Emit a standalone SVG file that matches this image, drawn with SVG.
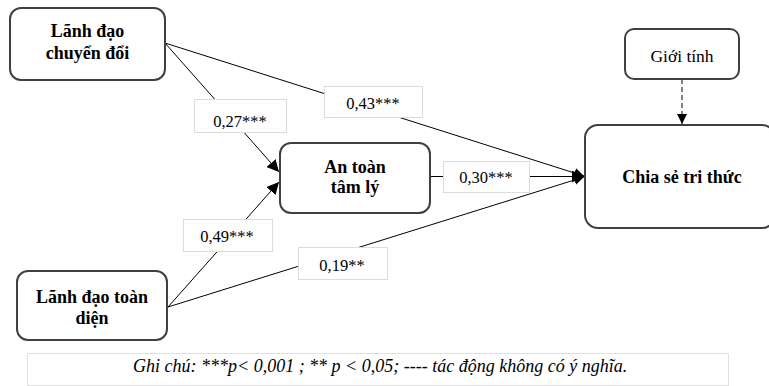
<svg xmlns="http://www.w3.org/2000/svg" width="769" height="386" viewBox="0 0 769 386">
<style>
.node{fill:#fff;stroke:#404040;stroke-width:2}
.lbl{fill:#fff;stroke:#dcdcdc;stroke-width:1}
text{font-family:'Liberation Serif','Times New Roman','DejaVu Serif',serif;fill:#000;text-anchor:middle}
text.st{text-anchor:start;font-style:italic;font-size:18px}
.b{font-weight:bold;font-size:18px}
.n{font-size:16.5px}
.ln{stroke:#000;stroke-width:1;fill:none}
</style>
<defs>
<marker id="ah" viewBox="0 0 10 10" refX="10" refY="5" markerWidth="10" markerHeight="10" markerUnits="userSpaceOnUse" orient="auto">
<path d="M0,0 L10,5 L0,10 z" fill="#000"/>
</marker>
<marker id="ahs" viewBox="0 0 10 10" refX="10" refY="5" markerWidth="12" markerHeight="12" markerUnits="userSpaceOnUse" orient="auto">
<path d="M0,0 L10,5 L0,10 z" fill="#000"/>
</marker>
</defs>
<rect width="769" height="386" fill="#fff"/>
<g id="connectors">
<line class="ln" x1="165" y1="43" x2="279" y2="172" marker-end="url(#ahs)"/>
<line class="ln" x1="165" y1="43" x2="584" y2="176" marker-end="url(#ah)"/>
<line class="ln" x1="168" y1="307" x2="279" y2="182" marker-end="url(#ahs)"/>
<line class="ln" x1="168" y1="307" x2="584" y2="177" marker-end="url(#ah)"/>
<line class="ln" x1="430" y1="176.5" x2="584" y2="176.5" marker-end="url(#ahs)"/>
<line class="ln" x1="682" y1="79" x2="682" y2="124" stroke-dasharray="5,3" marker-end="url(#ah)"/>
</g>
<g id="lbl-027"><rect class="lbl" x="194.5" y="99.5" width="92" height="33"/><text class="n" x="240" y="127">0,27***</text></g>
<g id="lbl-043"><rect class="lbl" x="324.5" y="86.5" width="98" height="31"/><text class="n" x="373" y="109">0,43***</text></g>
<g id="lbl-030"><rect class="lbl" x="443.5" y="161.5" width="86" height="31"/><text class="n" x="486" y="183">0,30***</text></g>
<g id="lbl-049"><rect class="lbl" x="183.5" y="219.5" width="89" height="32"/><text class="n" x="227" y="242">0,49***</text></g>
<g id="lbl-019"><rect class="lbl" x="298.5" y="247.5" width="89" height="32"/><text class="n" x="342" y="271">0,19**</text></g>
<g id="n-lddc"><rect class="node" x="10" y="8" width="155" height="72" rx="11"/><text class="b" x="87.5" y="37">Lãnh đạo</text><text class="b" x="87.5" y="59">chuyển đổi</text></g>
<g id="n-atl"><rect class="node" x="280" y="143" width="150" height="70" rx="11"/><text class="b" x="355" y="173">An toàn</text><text class="b" x="355" y="193">tâm lý</text></g>
<g id="n-cstt"><rect class="node" x="585" y="125" width="190" height="103" rx="13"/><text class="b" x="682" y="183" font-size="18.5">Chia sẻ tri thức</text></g>
<g id="n-gt"><rect class="node" x="625" y="29" width="114" height="50" rx="9"/><text x="682" y="62" font-size="17.5">Giới tính</text></g>
<g id="n-ldtd"><rect class="node" x="17" y="271" width="150" height="69" rx="11"/><text class="b" x="92" y="303">Lãnh đạo toàn</text><text class="b" x="92" y="324">diện</text></g>
<g id="legend"><rect x="27.5" y="353.5" width="701" height="32" fill="#fff" stroke="#e0e0e0"/><text class="st" x="133" y="372">Ghi chú: ***p&lt; 0,001 ; ** p &lt; 0,05; ---- tác động không có ý nghĩa.</text></g>
</svg>
